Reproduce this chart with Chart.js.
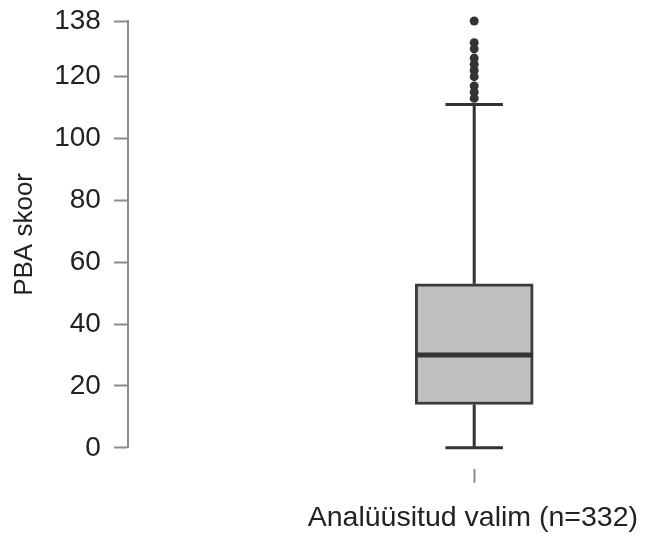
<!DOCTYPE html>
<html>
<head>
<meta charset="utf-8">
<script src="https://cdn.jsdelivr.net/npm/chart.js@4/dist/chart.umd.min.js"></script>
<style>
  html, body { margin: 0; padding: 0; background: #ffffff; }
  #wrap { width: 645px; height: 535px; }
</style>
</head>
<body>
<div id="wrap"><canvas id="c" width="645" height="535"></canvas></div>
<script>
// ---- data ----
const categoryLabel = 'Analüüsitud valim (n=332)';
const categoryPosition = [1];                 // the single group on the x scale
const yTickValues = [0, 20, 40, 60, 80, 100, 120, 138];
const whiskerLow = [0];
const quartile1 = [14];
const medianValue = [30];
const quartile3 = [53];
const whiskerHigh = [111];
const outlierValues = [113, 115, 117, 120, 122, 124, 126, 129, 131, 138];

// ---- geometry/style constants (x-scale units) ----
const BOX_HALF = 0.17;
const CAP_HALF = 0.083;
const X_MAX = 1.473;
const Y_MAX = 138;

const FONT = "'Liberation Sans', Arial, Helvetica, sans-serif";
const AXIS_GRAY = '#8c8c8c';
const DARK = '#333333';

const cx = categoryPosition[0];

const boxData = [{ x: cx, y: [quartile1[0], quartile3[0]] }];
const medianData = [{ x: cx - BOX_HALF, y: medianValue[0] }, { x: cx + BOX_HALF, y: medianValue[0] }];
const upperStem = [{ x: cx, y: quartile3[0] }, { x: cx, y: whiskerHigh[0] }];
const upperCap = [{ x: cx - CAP_HALF, y: whiskerHigh[0] }, { x: cx + CAP_HALF, y: whiskerHigh[0] }];
const lowerStem = [{ x: cx, y: quartile1[0] }, { x: cx, y: whiskerLow[0] }];
const lowerCap = [{ x: cx - CAP_HALF, y: whiskerLow[0] }, { x: cx + CAP_HALF, y: whiskerLow[0] }];
const outlierData = outlierValues.map(v => ({ x: cx, y: v }));

function lineDs(data, width, order) {
  return {
    type: 'scatter', data, showLine: true, borderColor: DARK, borderWidth: width,
    pointRadius: 0, fill: false, tension: 0, order, borderCapStyle: 'butt', clip: false
  };
}

new Chart(document.getElementById('c'), {
  type: 'scatter',
  data: {
    datasets: [
      {
        type: 'bar', data: boxData, backgroundColor: '#bfbfbf', borderColor: '#3c3c3c',
        borderWidth: 3, borderSkipped: false, barThickness: 118, grouped: false, order: 5
      },
      lineDs(upperStem, 3, 4),
      lineDs(lowerStem, 3, 4),
      lineDs(upperCap, 3, 3),
      lineDs(lowerCap, 3, 3),
      lineDs(medianData, 5, 2),
      {
        type: 'scatter', data: outlierData, pointRadius: 4.5, pointBackgroundColor: DARK,
        pointBorderWidth: 0, showLine: false, order: 1, clip: false
      }
    ]
  },
  options: {
    responsive: false,
    animation: false,
    events: [],
    layout: { padding: { top: 21, right: 7, bottom: 0, left: 0 } },
    plugins: { legend: { display: false }, tooltip: { enabled: false } },
    scales: {
      x: {
        type: 'linear', position: 'bottom', min: 0, max: X_MAX, offset: false,
        afterBuildTicks: (axis) => { axis.ticks = categoryPosition.map(v => ({ value: v })); },
        border: { display: false },
        grid: {
          offset: false, drawOnChartArea: false, drawTicks: true, tickLength: 35,
          tickColor: AXIS_GRAY, tickWidth: 2, tickBorderDash: [0, 21, 14, 200]
        },
        ticks: { display: false },
        title: {
          display: true, text: categoryLabel, align: 'end', color: '#222',
          font: { family: FONT, size: 28.5 }, padding: { top: 18, bottom: 0 }
        }
      },
      y: {
        type: 'linear', position: 'left', min: 0, max: Y_MAX,
        afterBuildTicks: (axis) => { axis.ticks = yTickValues.map(v => ({ value: v })); },
        border: { display: true, color: AXIS_GRAY, width: 2 },
        grid: {
          drawOnChartArea: false, drawTicks: true, tickLength: 14,
          tickColor: AXIS_GRAY, tickWidth: 2
        },
        ticks: { color: '#222', font: { family: FONT, size: 28, lineHeight: 0.5 }, padding: 13 },
        title: {
          display: true, text: 'PBA skoor', color: '#222',
          font: { family: FONT, size: 26 }, padding: { top: 9, bottom: 1 }
        }
      }
    }
  }
});
</script>
</body>
</html>
